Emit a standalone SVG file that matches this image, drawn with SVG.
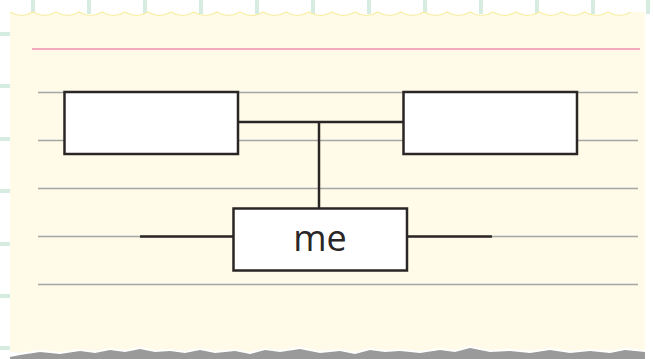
<svg xmlns="http://www.w3.org/2000/svg" width="653" height="359" viewBox="0 0 653 359">
<style>
.tick{fill:#d6ece0}
.rule{stroke:#a6a6a6;stroke-width:1.5}
.box{fill:#ffffff;stroke:#2b2626;stroke-width:2.5}
.conn{stroke:#2b2626;stroke-width:2.5;fill:none}
.lbl{font-family:"Open Sans","Liberation Sans",sans-serif;font-size:36px;fill:#2b2626;text-anchor:middle}
</style>
<rect width="653" height="359" fill="#ffffff"/>
<g id="ticks">
<rect class="tick" x="31" y="0" width="4" height="14"/>
<rect class="tick" x="87" y="0" width="4" height="14"/>
<rect class="tick" x="143" y="0" width="4" height="14"/>
<rect class="tick" x="199" y="0" width="4" height="14"/>
<rect class="tick" x="255" y="0" width="4" height="14"/>
<rect class="tick" x="311" y="0" width="4" height="14"/>
<rect class="tick" x="367" y="0" width="4" height="14"/>
<rect class="tick" x="423" y="0" width="4" height="14"/>
<rect class="tick" x="479" y="0" width="4" height="14"/>
<rect class="tick" x="535" y="0" width="4" height="14"/>
<rect class="tick" x="591" y="0" width="4" height="14"/>
<rect class="tick" x="646" y="0" width="4" height="14"/>
<rect class="tick" x="0" y="32" width="10" height="4"/>
<rect class="tick" x="0" y="84" width="10" height="4"/>
<rect class="tick" x="0" y="137" width="10" height="4"/>
<rect class="tick" x="0" y="189" width="10" height="4"/>
<rect class="tick" x="0" y="242" width="10" height="4"/>
<rect class="tick" x="0" y="294" width="10" height="4"/>
<rect class="tick" x="0" y="346" width="10" height="4"/>
</g>
<g id="paper">
<path d="M10,357 L20,355 L40,352 L60,354 L80,351 L95,353 L110,350 L125,352 L140,349 L155,352 L170,351 L185,353 L200,350 L215,353 L235,351 L250,354 L265,350 L280,352 L300,349 L320,353 L340,351 L355,354 L370,350 L385,352 L400,351 L420,353 L440,350 L455,352 L470,348 L490,352 L510,351 L530,353 L550,350 L570,353 L590,351 L610,353 L625,350 L645,352 L645,359 L10,359 Z" fill="#9a9a9a"/>
<path d="M10,12 q11.5,7 23,0 q11.5,7 23,0 q11.5,7 23,0 q11.5,7 23,0 q11.5,7 23,0 q11.5,7 23,0 q11.5,7 23,0 q11.5,7 23,0 q11.5,7 23,0 q11.5,7 23,0 q11.5,7 23,0 q11.5,7 23,0 q11.5,7 23,0 q11.5,7 23,0 q11.5,7 23,0 q11.5,7 23,0 q11.5,7 23,0 q11.5,7 23,0 q11.5,7 23,0 q11.5,7 23,0 q11.5,7 23,0 q11.5,7 23,0 q11.5,7 23,0 q11.5,7 23,0 q11.5,7 23,0 q11.5,7 23,0 q11.5,7 23,0 L645,12 L645,350 L625,348 L610,351 L590,349 L570,351 L550,348 L530,351 L510,349 L490,350 L470,346 L455,350 L440,348 L420,351 L400,349 L385,350 L370,348 L355,352 L340,349 L320,351 L300,347 L280,350 L265,348 L250,352 L235,349 L215,351 L200,348 L185,351 L170,349 L155,350 L140,347 L125,350 L110,348 L95,351 L80,349 L60,352 L40,350 L20,353 L10,352 Z" fill="#fffbe8"/>
<path d="M10,12 q11.5,7 23,0 q11.5,7 23,0 q11.5,7 23,0 q11.5,7 23,0 q11.5,7 23,0 q11.5,7 23,0 q11.5,7 23,0 q11.5,7 23,0 q11.5,7 23,0 q11.5,7 23,0 q11.5,7 23,0 q11.5,7 23,0 q11.5,7 23,0 q11.5,7 23,0 q11.5,7 23,0 q11.5,7 23,0 q11.5,7 23,0 q11.5,7 23,0 q11.5,7 23,0 q11.5,7 23,0 q11.5,7 23,0 q11.5,7 23,0 q11.5,7 23,0 q11.5,7 23,0 q11.5,7 23,0 q11.5,7 23,0 q11.5,7 23,0" fill="none" stroke="#f7eea0" stroke-width="1.2"/>
<line x1="32" y1="49" x2="640" y2="49" stroke="#f5a9bf" stroke-width="2"/>
<line class="rule" x1="38" y1="92.5" x2="638" y2="92.5"/>
<line class="rule" x1="38" y1="140.5" x2="638" y2="140.5"/>
<line class="rule" x1="38" y1="188.5" x2="638" y2="188.5"/>
<line class="rule" x1="38" y1="236.5" x2="638" y2="236.5"/>
<line class="rule" x1="38" y1="284.5" x2="638" y2="284.5"/>
</g>
<g id="connectors">
<line class="conn" x1="238" y1="122" x2="403" y2="122"/>
<line class="conn" x1="319" y1="122" x2="319" y2="208"/>
<line class="conn" x1="140" y1="236.5" x2="233" y2="236.5"/>
<line class="conn" x1="407" y1="236.5" x2="492" y2="236.5"/>
</g>
<g id="parent1"><rect class="box" x="64.5" y="92" width="173.5" height="62"/></g>
<g id="parent2"><rect class="box" x="403.5" y="92" width="173.5" height="62"/></g>
<g id="me"><rect class="box" x="233.5" y="208.5" width="173.5" height="62"/>
<text class="lbl" x="320" y="251">me</text></g>
</svg>
